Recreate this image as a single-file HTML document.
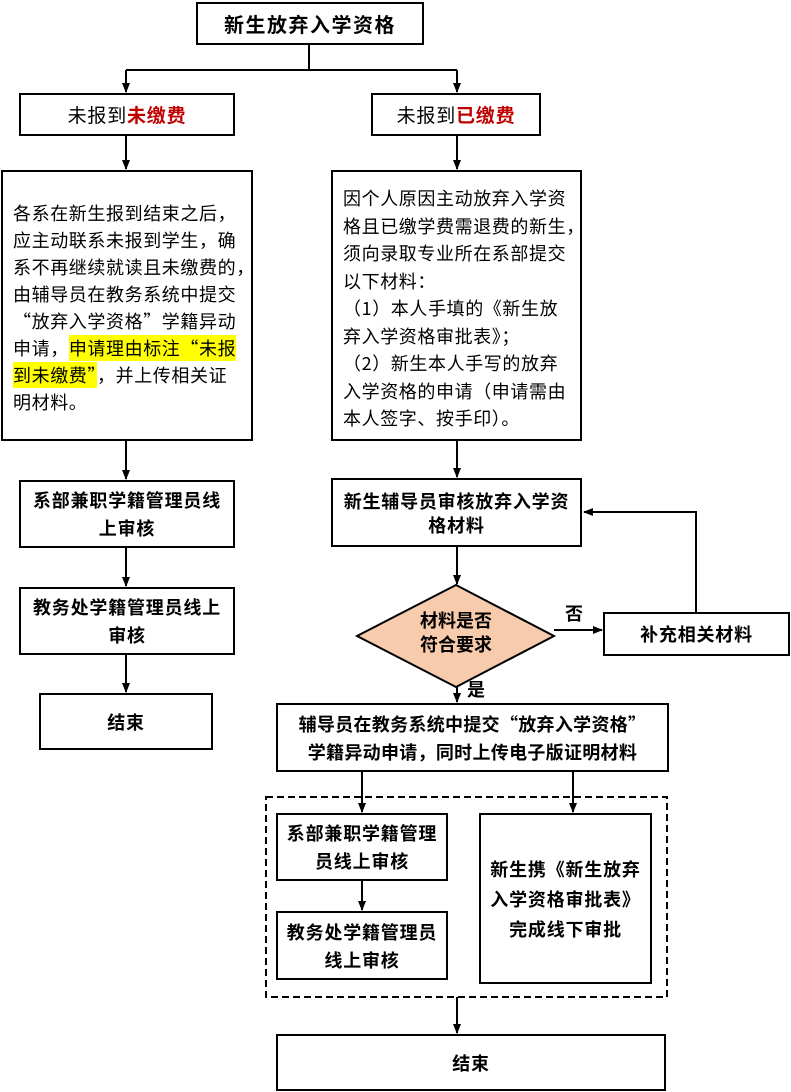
<!DOCTYPE html>
<html><head><meta charset="utf-8"><style>
body{margin:0;width:791px;height:1092px;background:#fff;position:relative;overflow:hidden;font-family:"Noto Sans CJK SC","Liberation Sans",sans-serif;}
.b{position:absolute;box-sizing:border-box;border:2px solid #000;background:#fff;display:flex;align-items:center;justify-content:center;text-align:center;font-weight:bold;font-size:18px;letter-spacing:0.8px;line-height:28px;color:#000;white-space:nowrap;}
.t{position:absolute;box-sizing:border-box;border:2px solid #000;background:#fff;font-size:18px;letter-spacing:0.6px;line-height:27px;padding:28px 0 0 10px;white-space:nowrap;}
.hl{background:#ffff00;}
.lab{position:absolute;font-weight:bold;font-size:18px;}
svg{position:absolute;left:0;top:0;}
</style></head><body>
<svg width="791" height="1092">
<defs><marker id="a" markerWidth="10" markerHeight="10" refX="9" refY="5" orient="auto" markerUnits="userSpaceOnUse"><path d="M0,1 L10,5 L0,9 z" fill="#000"/></marker></defs>
<g stroke="#000" stroke-width="2" fill="none">
<path d="M309,44 V70 M126,70 H457"/>
<path d="M126,70 V92" marker-end="url(#a)"/>
<path d="M457,70 V92" marker-end="url(#a)"/>
<path d="M126,135 V169" marker-end="url(#a)"/>
<path d="M457,135 V169" marker-end="url(#a)"/>
<path d="M126,440 V479" marker-end="url(#a)"/>
<path d="M126,547 V586" marker-end="url(#a)"/>
<path d="M126,654 V692" marker-end="url(#a)"/>
<path d="M457,440 V477" marker-end="url(#a)"/>
<path d="M457,546 V584" marker-end="url(#a)"/>
<path d="M554,630 H602" marker-end="url(#a)"/>
<path d="M696,612 V512 H584" marker-end="url(#a)"/>
<path d="M457,686 V702" marker-end="url(#a)"/>
<path d="M362,771 V812" marker-end="url(#a)"/>
<path d="M573,771 V812" marker-end="url(#a)"/>
<path d="M362,880 V910" marker-end="url(#a)"/>
<path d="M457,997 V1033" marker-end="url(#a)"/>
<rect x="266" y="797" width="401" height="200" stroke-dasharray="7,4"/>
</g>
<polygon points="456,585 554,636 456,687 357,636" fill="#f8cbad" stroke="#000" stroke-width="2"/>
<text x="456" y="627" font-size="18" font-weight="bold" text-anchor="middle" font-family="Noto Sans CJK SC,sans-serif">材料是否</text>
<text x="456" y="651" font-size="18" font-weight="bold" text-anchor="middle" font-family="Noto Sans CJK SC,sans-serif">符合要求</text>
</svg>
<div class="b" style="left:196px;top:2px;width:228px;height:43px;font-size:20px;letter-spacing:1.5px;">新生放弃入学资格</div>
<div class="b" style="left:19px;top:93px;width:216px;height:43px;font-size:19px;font-weight:normal;">未报到<span style="color:#c00000;font-weight:bold">未缴费</span></div>
<div class="b" style="left:371px;top:93px;width:170px;height:43px;font-size:19px;font-weight:normal;">未报到<span style="color:#c00000;font-weight:bold">已缴费</span></div>
<div class="t" style="left:1px;top:170px;width:252px;height:271px;">各系在新生报到结束之后，<br>应主动联系未报到学生，确<br>系不再继续就读且未缴费的，<br>由辅导员在教务系统中提交<br>“放弃入学资格”学籍异动<br>申请，<span class="hl">申请理由标注“未报</span><br><span class="hl">到未缴费”</span>，并上传相关证<br>明材料。</div>
<div class="t" style="left:331px;top:170px;width:251px;height:271px;padding-top:13px;line-height:27.5px;">因个人原因主动放弃入学资<br>格且已缴学费需退费的新生，<br>须向录取专业所在系部提交<br>以下材料：<br>（1）本人手填的《新生放<br>弃入学资格审批表》；<br>（2）新生本人手写的放弃<br>入学资格的申请（申请需由<br>本人签字、按手印）。</div>
<div class="b" style="left:19px;top:480px;width:216px;height:68px;">系部兼职学籍管理员线<br>上审核</div>
<div class="b" style="left:19px;top:587px;width:216px;height:68px;">教务处学籍管理员线上<br>审核</div>
<div class="b" style="left:39px;top:693px;width:174px;height:57px;">结束</div>
<div class="b" style="left:331px;top:478px;width:251px;height:69px;line-height:24px;">新生辅导员审核放弃入学资<br>格材料</div>
<div class="b" style="left:603px;top:612px;width:187px;height:44px;">补充相关材料</div>
<div class="lab" style="left:565px;top:600px;">否</div>
<div class="lab" style="left:467px;top:676px;">是</div>
<div class="b" style="left:276px;top:703px;width:393px;height:69px;letter-spacing:0.3px;">辅导员在教务系统中提交“放弃入学资格”<br>学籍异动申请，同时上传电子版证明材料</div>
<div class="b" style="left:276px;top:813px;width:172px;height:68px;">系部兼职学籍管理<br>员线上审核</div>
<div class="b" style="left:276px;top:911px;width:172px;height:69px;">教务处学籍管理员<br>线上审核</div>
<div class="b" style="left:479px;top:813px;width:173px;height:171px;line-height:30px;">新生携《新生放弃<br>入学资格审批表》<br>完成线下审批</div>
<div class="b" style="left:276px;top:1034px;width:390px;height:57px;">结束</div>
</body></html>
